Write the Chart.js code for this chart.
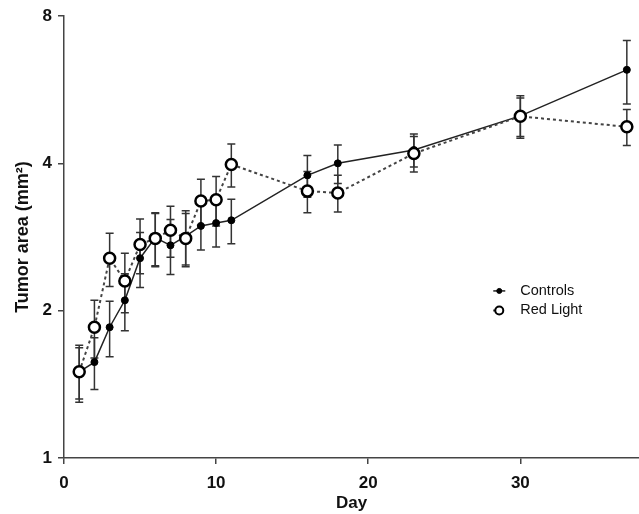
<!DOCTYPE html>
<html lang="en">
<head>
    <meta charset="UTF-8">
    <title>Tumor area</title>
    <script src="https://cdn.jsdelivr.net/npm/chart.js"></script>
    <style>
        html, body { margin: 0; padding: 0; background: #fff; }
    </style>
</head>
<body>
    <canvas id="tumor-chart" width="639" height="514"></canvas>

    <script>
        // values
        const days = [1, 2, 3, 4, 5, 6, 7, 8, 9, 10, 11, 16, 18, 23, 30, 37];
        const controlsMean = [1.50, 1.57, 1.85, 2.10, 2.56, 2.82, 2.72, 2.84, 2.98, 3.02, 3.06, 3.78, 4.00, 4.26, 5.00, 6.21];
        const controlsSem  = [0.18, 0.19, 0.24, 0.28, 0.33, 0.35, 0.35, 0.36, 0.32, 0.32, 0.32, 0.37, 0.36, 0.33, 0.50, 0.92];
        const redMean = [1.50, 1.85, 2.56, 2.30, 2.73, 2.81, 2.92, 2.81, 3.35, 3.37, 3.98, 3.51, 3.48, 4.19, 4.99, 4.75];
        const redSem  = [0.20, 0.25, 0.32, 0.32, 0.35, 0.35, 0.35, 0.35, 0.36, 0.39, 0.40, 0.34, 0.30, 0.35, 0.45, 0.40];
        const yTicks = [1, 2, 4, 8];
        const xTicks = [0, 10, 20, 30];

        Chart.defaults.font.family = "'Liberation Sans', Arial, sans-serif";
        Chart.defaults.color = '#111';

        function toPoints(means) {
            return days.map((d, i) => ({ x: d, y: means[i] }));
        }

        // error bars drawn under the markers
        const errorBars = {
            id: 'errorBars',
            beforeDatasetsDraw(chart) {
                const ctx = chart.ctx;
                const xs = chart.scales.x, ys = chart.scales.y;
                ctx.save();
                ctx.strokeStyle = '#333';
                ctx.lineWidth = 1.5;
                chart.data.datasets.forEach(ds => {
                    ds.data.forEach((p, i) => {
                        const px = xs.getPixelForValue(p.x);
                        const top = ys.getPixelForValue(p.y + ds.sem[i]);
                        const bot = ys.getPixelForValue(p.y - ds.sem[i]);
                        ctx.beginPath();
                        ctx.moveTo(px, top); ctx.lineTo(px, bot);
                        ctx.moveTo(px - 4, top); ctx.lineTo(px + 4, top);
                        ctx.moveTo(px - 4, bot); ctx.lineTo(px + 4, bot);
                        ctx.stroke();
                    });
                });
                ctx.restore();
            }
        };

        // legend: short line + marker + label, inside the plot
        const lineLegend = {
            id: 'lineLegend',
            afterDraw(chart) {
                const ctx = chart.ctx;
                const a = chart.chartArea;
                const x = a.left + (a.right - a.left) * 0.757;
                let y = a.top + (a.bottom - a.top) * 0.622;
                ctx.save();
                ctx.font = "14.5px 'Liberation Sans', Arial, sans-serif";
                ctx.textBaseline = 'middle';
                chart.data.datasets.forEach(ds => {
                    ctx.strokeStyle = '#222';
                    ctx.lineWidth = ds.borderWidth;
                    ctx.setLineDash(ds.borderDash || []);
                    ctx.beginPath();
                    ctx.moveTo(x - 6, y); ctx.lineTo(x + 6, y);
                    ctx.stroke();
                    ctx.setLineDash([]);
                    ctx.beginPath();
                    ctx.arc(x, y, ds.pointRadius > 4 ? 4 : 2.5, 0, Math.PI * 2);
                    ctx.fillStyle = ds.pointBackgroundColor;
                    ctx.fill();
                    ctx.lineWidth = ds.pointBorderWidth > 2 ? 2 : 1;
                    ctx.strokeStyle = '#000';
                    ctx.stroke();
                    ctx.fillStyle = '#111';
                    ctx.fillText(ds.label, x + 21, y);
                    y += 19.5;
                });
                ctx.restore();
            }
        };

        new Chart(document.getElementById('tumor-chart'), {
            type: 'line',
            data: {
                datasets: [{
                    label: 'Controls',
                    data: toPoints(controlsMean),
                    sem: controlsSem,
                    borderColor: '#222',
                    borderWidth: 1.5,
                    pointRadius: 3.5,
                    pointBackgroundColor: '#000',
                    pointBorderColor: '#000',
                    pointBorderWidth: 1,
                    order: 2
                }, {
                    label: 'Red Light',
                    data: toPoints(redMean),
                    sem: redSem,
                    borderColor: '#444',
                    borderWidth: 2,
                    borderDash: [3, 3],
                    pointRadius: 5.5,
                    pointBackgroundColor: '#fff',
                    pointBorderColor: '#000',
                    pointBorderWidth: 2.5,
                    order: 1
                }]
            },
            options: {
                responsive: false,
                animation: false,
                layout: { autoPadding: false, padding: { top: 16, right: 0, left: 0, bottom: 0 } },
                plugins: {
                    legend: { display: false },
                    tooltip: { enabled: false }
                },
                scales: {
                    x: {
                        type: 'linear',
                        min: 0,
                        max: 37.8,
                        afterBuildTicks: s => { s.ticks = xTicks.map(v => ({ value: v })); },
                        afterFit: s => { s.height = 56; s.paddingLeft = 0; s.paddingRight = 0; },
                        grid: { drawOnChartArea: false, tickLength: 6, color: '#444', lineWidth: 1.5 },
                        border: { color: '#444', width: 1.5 },
                        ticks: { font: { size: 17, weight: 'bold' }, padding: 9, maxRotation: 0 },
                        title: { display: true, text: 'Day', font: { size: 17, weight: 'bold' }, padding: { top: 0, bottom: 0 } }
                    },
                    y: {
                        type: 'logarithmic',
                        min: 1,
                        max: 8,
                        afterBuildTicks: s => { s.ticks = yTicks.map(v => ({ value: v })); },
                        afterFit: s => { s.width = 64; s.paddingTop = 0; s.paddingBottom = 0; },
                        grid: { drawOnChartArea: false, tickLength: 6, color: '#444', lineWidth: 1.5 },
                        border: { color: '#444', width: 1.5 },
                        ticks: { font: { size: 17, weight: 'bold' }, padding: 6, callback: v => String(v) },
                        title: { display: true, text: 'Tumor area (mm²)', font: { size: 18, weight: 'bold' }, padding: { top: 12, bottom: 0 } }
                    }
                }
            },
            plugins: [errorBars, lineLegend]
        });
    </script>
</body>
</html>
